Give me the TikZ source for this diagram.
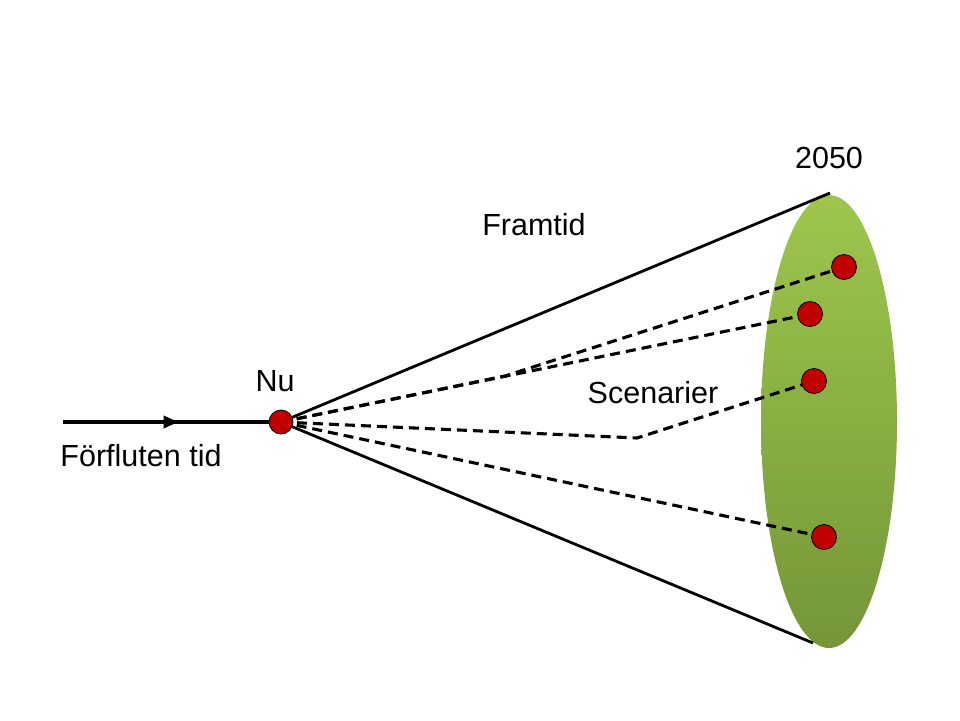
\documentclass[tikz,border=0pt]{standalone}
\usepackage{fontspec}
\setmainfont{Liberation Sans}
\usetikzlibrary{arrows.meta,decorations.markings,backgrounds}
\begin{document}
\begin{tikzpicture}[x=1pt,y=-1pt,
  lbl/.style={font=\fontsize{30.5}{36}\selectfont, inner sep=0pt, anchor=base},
  reddot/.style={circle, fill={rgb,255:red,192;green,0;blue,0}, draw=black, line width=0.8pt, minimum size=#1, inner sep=0pt},
  reddot/.default=25pt,
  conel/.style={line width=2.8pt},
  scen/.style={line width=3.1pt, dash pattern=on 10pt off 6pt},
  timeline/.style={line width=4.5pt, postaction={decorate},
    decoration={markings, mark=at position 0.53 with {\arrow{Triangle[length=15pt,width=12pt]}}}}
]
\useasboundingbox (0,0) rectangle (960,720);
\definecolor{gtop}{RGB}{158,198,76}
\definecolor{gbot}{RGB}{116,150,56}
% dots
\node[reddot=24pt] (nu) at (281,422) {};
\node[reddot] (d1) at (844,267) {};
\node[reddot] (d2) at (810,314) {};
\node[reddot] (d3) at (814,381) {};
\node[reddot] (d4) at (824,537) {};
% coordinates
\coordinate (past) at (63,422);
\coordinate (top) at (830,193);
\coordinate (bot) at (813,643);
\coordinate (b1) at (505,376);
\coordinate (b3) at (637,438);
\begin{scope}[on background layer]
  % ellipse (future horizon)
  \shade[top color=gtop, bottom color=gbot] (829,421.5) ellipse [x radius=68, y radius=226.5];
  % cone lines
  \draw[conel] (nu.center) -- (top);
  \draw[conel] (nu.center) -- (bot);
  % scenario lines
  \draw[scen] (nu.center) -- (b1) -- (d1.center);
  \draw[scen] (nu.center) -- (d2.center);
  \draw[scen] (nu.center) -- (b3) -- (d3.center);
  \draw[scen] (nu.center) -- (d4.center);
  % timeline
  \draw[timeline] (past) -- (nu.center);
\end{scope}
% labels
\node[lbl] (lpast) at (141,466) {Förfluten tid};
\node[lbl] (lnu) at (275,391) {Nu};
\node[lbl] (lfram) at (534,235) {Framtid};
\node[lbl] (lscen) at (653,403) {Scenarier};
\node[lbl] (l2050) at (829,168) {2050};
\end{tikzpicture}
\end{document}
